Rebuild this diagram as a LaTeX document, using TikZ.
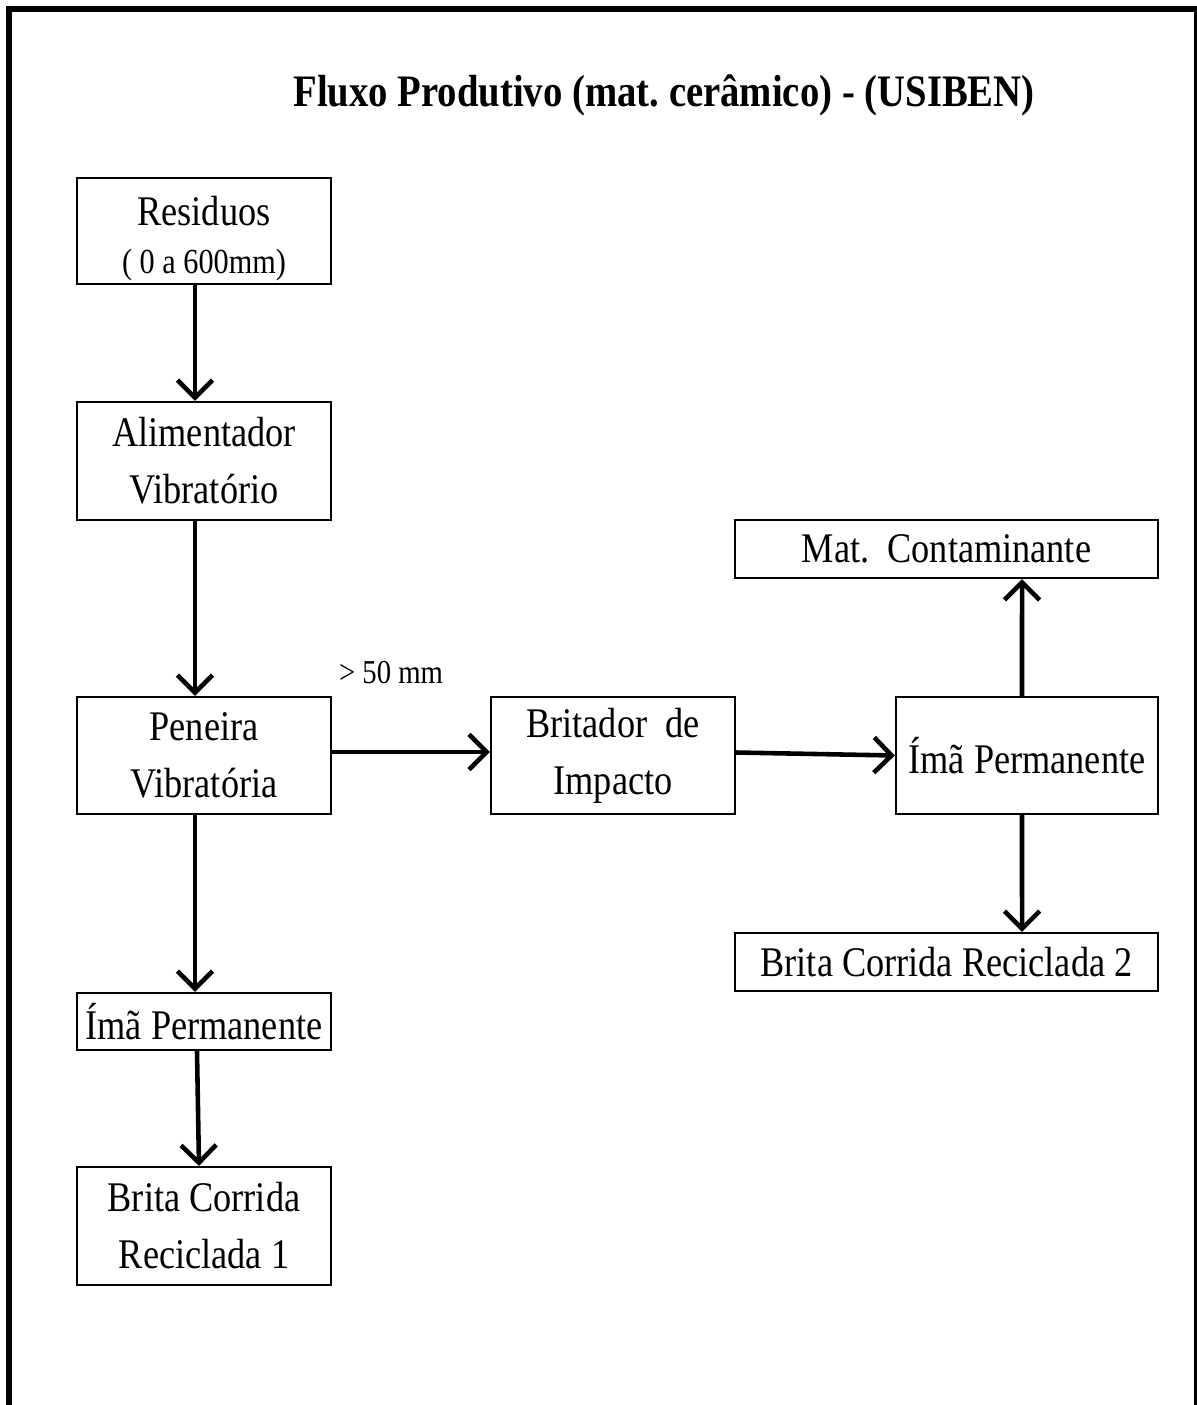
\documentclass[tikz,border=0pt]{standalone}
\usepackage{fontspec}
\setmainfont{Liberation Serif}[FakeStretch=0.86]
\usetikzlibrary{arrows.meta}
\frenchspacing
\begin{document}
\begin{tikzpicture}[x=0.01cm,y=-0.01cm,
  box/.style={draw,line width=0.6pt,inner sep=0pt,align=center,font=\fontsize{12}{16.2}\selectfont},
  arr/.style={line width=1.3pt,-{Straight Barb[length=5pt,width=10pt]}},
  lbl/.style={inner sep=0pt,font=\fontsize{9.5}{11}\selectfont}]
\useasboundingbox (0,0) rectangle (1196,1405);
\fill[white] (0,0) rectangle (1196,1405);
\draw[line width=1.7pt] (9,1430) -- (9,9) -- (1197,9) -- (1197,1430);
\node[inner sep=0pt,font=\bfseries\fontsize{12.8}{15}\selectfont] (title) at (664,95) {Fluxo Produtivo (mat. cerâmico) - (USIBEN)};
\node[draw,line width=0.6pt,inner sep=0pt,minimum width=2.54cm,minimum height=1.06cm] (res) at (204,231) {};
\node[inner sep=0pt,font=\fontsize{12}{14}\selectfont] (resA) at (204,211) {Residuos};
\node[inner sep=0pt,font=\fontsize{10}{12}\selectfont] (resB) at (204,265) {( 0 a 600mm)};
\node[box,minimum width=2.54cm,minimum height=1.18cm] (ali) at (204,461) {Alimentador\\Vibratório};
\node[box,minimum width=2.54cm,minimum height=1.17cm] (pen) at (204,755.5) {Peneira\\Vibratória};
\node[box,minimum width=2.54cm,minimum height=0.57cm] (imaL) at (204,1021.5) {Ímã Permanente};
\node[box,minimum width=2.54cm,minimum height=1.18cm] (br1) at (204,1226) {Brita Corrida\\Reciclada 1};
\node[box,minimum width=2.44cm,minimum height=1.17cm] (brit) at (613,755.5) {Britador\ \ de\\Impacto};
\node[box,minimum width=2.62cm,minimum height=1.17cm] (imaR) at (1027,755.5) {Ímã Permanente};
\node[box,minimum width=4.23cm,minimum height=0.58cm] (mat) at (946.5,549) {Mat.\ \ Contaminante};
\node[box,minimum width=4.23cm,minimum height=0.58cm] (br2) at (946.5,962) {Brita Corrida Reciclada 2};
\node[lbl] (gt) at (391,673) {> 50 mm};
\draw[arr] ([xshift=-0.09cm]res.south) -- ([xshift=-0.09cm]ali.north);
\draw[arr] ([xshift=-0.09cm]ali.south) -- ([xshift=-0.09cm]pen.north);
\draw[arr] ([xshift=-0.09cm]pen.south) -- ([xshift=-0.09cm]imaL.north);
\draw[arr] ([xshift=-0.07cm]imaL.south) -- ([xshift=-0.05cm]br1.north);
\draw[arr] ([yshift=0.035cm]pen.east) -- ([yshift=0.035cm]brit.west);
\draw[arr] ([yshift=0.03cm]brit.east) -- ([yshift=0cm]imaR.west);
\draw[arr] ([xshift=-0.05cm]imaR.north) -- ([xshift=0.755cm]mat.south);
\draw[arr] ([xshift=-0.05cm]imaR.south) -- ([xshift=0.755cm]br2.north);
\end{tikzpicture}
\end{document}
